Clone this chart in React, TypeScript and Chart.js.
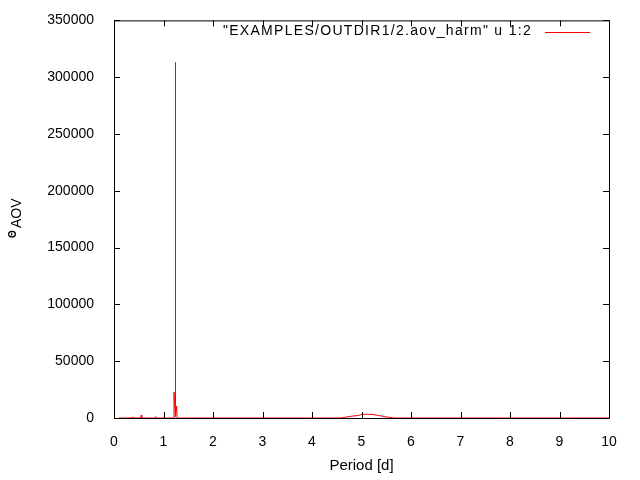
import { useEffect, useRef } from 'react'
import { Chart, registerables } from 'chart.js'
Chart.register(...registerables)

// period [d] and theta_AOV values
const periods = [0.1, 0.36, 0.37, 0.38, 0.54, 0.55, 0.56, 0.82, 0.84, 0.86, 1.2, 1.212, 1.2424, 1.2424, 1.2424, 1.265, 1.275, 4.55, 4.62, 4.77, 4.93, 5.01, 5.11, 5.23, 5.37, 5.49, 5.62, 5.7, 10]
const theta = [0, 0, 900, 0, 0, 2600, 0, 0, 1200, 0, 0, 22800, 1500, 313000, 1000, 10500, 0, 0, 300, 1400, 2200, 3200, 3300, 3100, 2000, 1000, 200, 0, 0]
const xTicks = [0, 1, 2, 3, 4, 5, 6, 7, 8, 9, 10]
const yTicks = [0, 50000, 100000, 150000, 200000, 250000, 300000, 350000]
const legendLabel = '"EXAMPLES/OUTDIR1/2.aov_harm" u 1:2'

const FONT = 'Liberation Sans, Arial, sans-serif'

const framePlugin = {
  id: 'gnuframe',
  afterDraw(chart: any) {
    const { ctx, chartArea: a, scales } = chart
    const t = 6
    ctx.save()
    ctx.strokeStyle = '#000'
    ctx.lineWidth = 1
    ctx.beginPath()
    ctx.rect(a.left + 0.5, a.top + 0.5, a.right - a.left, a.bottom - a.top)
    xTicks.forEach((v) => {
      const x = Math.round(scales.x.getPixelForValue(v)) + 0.5
      ctx.moveTo(x, a.bottom); ctx.lineTo(x, a.bottom - t)
      ctx.moveTo(x, a.top); ctx.lineTo(x, a.top + t)
    })
    yTicks.forEach((v) => {
      const y = Math.round(scales.y.getPixelForValue(v)) + 0.5
      ctx.moveTo(a.left, y); ctx.lineTo(a.left + t, y)
      ctx.moveTo(a.right, y); ctx.lineTo(a.right - t, y)
    })
    ctx.stroke()

    // legend: text then line sample
    ctx.fillStyle = '#000'
    ctx.font = '14px ' + FONT
    ctx.letterSpacing = '1.3px'
    ctx.textAlign = 'right'
    ctx.textBaseline = 'middle'
    ctx.fillText(legendLabel, 532, 31)
    ctx.letterSpacing = '0px'
    ctx.strokeStyle = '#ff0000'
    ctx.beginPath()
    ctx.moveTo(545, 32.5); ctx.lineTo(590, 32.5)
    ctx.stroke()

    // y title with subscript
    ctx.translate(15.7, 238)
    ctx.rotate(-Math.PI / 2)
    ctx.textAlign = 'left'
    ctx.textBaseline = 'alphabetic'
    ctx.fillStyle = '#000'
    ctx.font = 'bold 10px ' + FONT
    ctx.fillText('Θ', 0, 0)
    ctx.font = '14px ' + FONT
    ctx.fillText('AOV', 10, 5)
    ctx.restore()
  },
}

const App = () => {
  const canvas = useRef<any>(null)
  useEffect(() => {
    document.body.style.margin = '0'
    const chart = new Chart(canvas.current, {
      type: 'line',
      data: {
        labels: periods,
        datasets: [
          {
            label: legendLabel,
            data: periods.map((p, i) => ({ x: p, y: theta[i] })),
            borderColor: '#ff0000',
            borderWidth: 1,
            pointRadius: 0,
            tension: 0,
          },
        ],
      },
      options: {
        animation: false,
        responsive: false,
        devicePixelRatio: 1,
        layout: { padding: { left: 0, right: 31, top: 19, bottom: 0 } },
        plugins: { legend: { display: false }, tooltip: { enabled: false } },
        scales: {
          x: {
            type: 'linear',
            min: 0,
            max: 10,
            afterFit: (s: any) => { s.height = 62 },
            grid: { display: false },
            border: { display: false },
            ticks: { stepSize: 1, padding: 8, color: '#000', font: { family: FONT, size: 14 } },
            title: { display: true, text: 'Period [d]', color: '#000', padding: { top: 4, bottom: 5 }, font: { family: FONT, size: 15 } },
          },
          y: {
            min: 0,
            max: 350000,
            afterFit: (s: any) => { s.width = 114 },
            grid: { display: false },
            border: { display: false },
            ticks: { stepSize: 50000, padding: 12, color: '#000', font: { family: FONT, size: 14 }, callback: (v: any) => String(v) },
          },
        },
      },
      plugins: [framePlugin],
    })
    return () => chart.destroy()
  }, [])
  return (
    <div style={{ width: 640, height: 480, background: '#fff' }}>
      <canvas ref={canvas} width={640} height={480}></canvas>
    </div>
  )
}

export default App
